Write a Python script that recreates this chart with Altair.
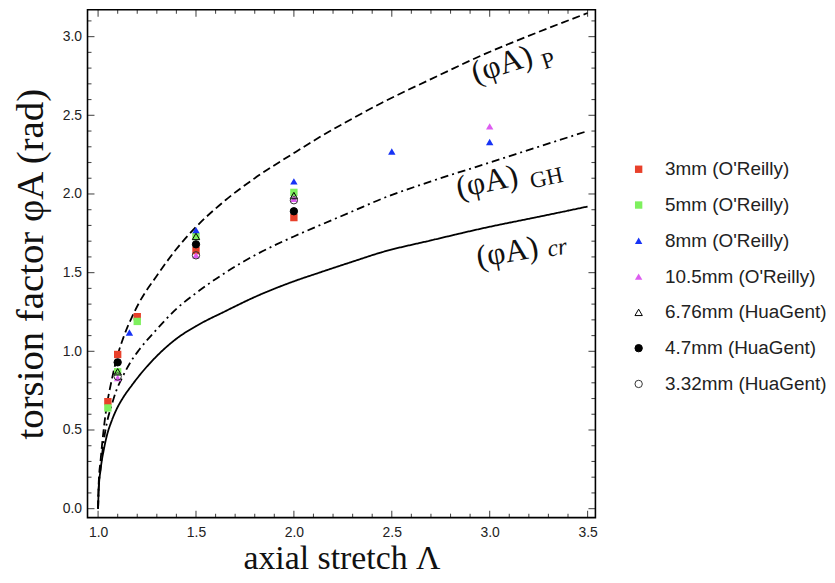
import altair as alt
import pandas as pd

# ---------------- data ----------------
series_names = ["3mm (O'Reilly)", "5mm (O'Reilly)", "8mm (O'Reilly)", "10.5mm (O'Reilly)",
                "6.76mm (HuaGent)", "4.7mm (HuaGent)", "3.32mm (HuaGent)"]
series_x = [
    [1.05, 1.10, 1.20, 1.50, 2.00],
    [1.05, 1.10, 1.20, 1.50, 2.00],
    [1.16, 1.50, 2.00, 2.50, 3.00],
    [1.10, 1.50, 2.00, 3.00],
    [1.10, 1.50, 2.00],
    [1.10, 1.50, 2.00],
    [1.10, 1.50, 2.00],
]
series_y = [
    [0.68, 0.98, 1.22, 1.64, 1.85],
    [0.64, 0.87, 1.19, 1.73, 2.01],
    [1.12, 1.77, 2.08, 2.27, 2.33],
    [0.83, 1.61, 1.97, 2.43],
    [0.87, 1.73, 1.99],
    [0.93, 1.68, 1.89],
    [0.84, 1.61, 1.96],
]
series_fill = ["#e8402a", "#7ef05e", "#1733f5", "#dd5cf0", "transparent", "#000000", "transparent"]
series_stroke = ["transparent", "transparent", "transparent", "transparent", "#000000", "#000000", "#333333"]
series_shape = ["square", "square", "triangle-up", "triangle-up", "triangle-up", "circle", "circle"]
series_size = [55, 55, 95, 95, 80, 90, 85]

curve_names = ["P", "GH", "cr"]
curve_grid = [1.0, 1.003, 1.013, 1.03, 1.044, 1.07, 1.09, 1.13, 1.17, 1.21, 1.3, 1.4, 1.5,
              1.65, 1.8, 2.0, 2.13, 2.3, 2.45, 2.7, 2.976, 3.25, 3.5]
curve_P = [0.0, 0.16, 0.31, 0.52, 0.65, 0.82, 0.93, 1.09, 1.21, 1.31, 1.48, 1.65, 1.79,
           1.96, 2.10, 2.26, 2.36, 2.48, 2.58, 2.73, 2.89, 3.03, 3.15]
curve_GH = [0.0, 0.13, 0.26, 0.44, 0.54, 0.66, 0.74, 0.85, 0.94, 1.01, 1.14, 1.27, 1.37,
            1.50, 1.61, 1.73, 1.80, 1.89, 1.97, 2.08, 2.19, 2.30, 2.40]
curve_cr = [0.0, 0.12, 0.25, 0.38, 0.46, 0.56, 0.62, 0.71, 0.78, 0.845, 0.97, 1.08, 1.16,
            1.255, 1.345, 1.445, 1.50, 1.57, 1.63, 1.705, 1.785, 1.855, 1.92]
curve_y = [curve_P, curve_GH, curve_cr]
curve_dash = [[8, 4], [8, 4, 2, 4], [1, 0]]

label_text = ["(φA)", "(φA)", "(φA)"]
label_x = [3.062, 2.986, 3.09]
label_y = [2.824, 2.078, 1.630]
label_angle = [342, 348, 350]

sub_text = ["P", "GH"]
sub_x = [3.30, 3.29]
sub_y = [2.845, 2.10]
sub_angle = [342, 348]

it_text = ["cr"]
it_x = [3.345]
it_y = [1.655]
it_angle = [350]

x_major = [1.0, 1.5, 2.0, 2.5, 3.0, 3.5]
y_major = [0.0, 0.5, 1.0, 1.5, 2.0, 2.5, 3.0]
x_minor = [round(1.0 + 0.1 * i, 2) for i in range(26) if i % 5 != 0]
y_minor = [round(0.1 * i, 2) for i in range(32) if i % 5 != 0]

X_DOMAIN = [0.946, 3.54]
Y_DOMAIN = [-0.057, 3.171]
W = 511
H = 511
MAJOR = 7
MINOR = 4

# ---------------- tables ----------------
pts = pd.DataFrame([
    {"series": s, "x": x, "y": y}
    for s, xs_, ys_ in zip(series_names, series_x, series_y)
    for x, y in zip(xs_, ys_)
])
crv = pd.DataFrame([
    {"curve": c, "x": x, "y": y, "order": i}
    for c, ys_ in zip(curve_names, curve_y)
    for i, (x, y) in enumerate(zip(curve_grid, ys_))
])
lab = pd.DataFrame({"t": label_text, "x": label_x, "y": label_y, "a": label_angle})
sub = pd.DataFrame({"t": sub_text, "x": sub_x, "y": sub_y, "a": sub_angle})
itl = pd.DataFrame({"t": it_text, "x": it_x, "y": it_y, "a": it_angle})

xs = alt.Scale(domain=X_DOMAIN, nice=False, zero=False)
ys = alt.Scale(domain=Y_DOMAIN, nice=False, zero=False)

XAX = alt.Axis(orient="bottom", values=x_major, format=".1f", ticks=False,
               domain=False, grid=False, labelPadding=8,
               labelFont="Liberation Sans", labelFontSize=14, labelColor="#222",
               title="axial stretch Λ", titleFont="Liberation Serif",
               titleFontSize=34, titleFontWeight="normal", titleColor="#111",
               titlePadding=2)
YAX = alt.Axis(orient="left", values=y_major, format=".1f", ticks=False,
               domain=False, grid=False, labelPadding=6,
               labelFont="Liberation Sans", labelFontSize=14, labelColor="#222",
               title="torsion factor φA (rad)", titleFont="Liberation Serif",
               titleFontSize=39, titleFontWeight="normal", titleColor="#111",
               titlePadding=12)


def X(field):
    return alt.X(field, scale=xs, axis=XAX)


def Y(field):
    return alt.Y(field, scale=ys, axis=YAX)


curves = alt.Chart(crv).mark_line(color="black", strokeWidth=1.8, clip=True,
                                  interpolate="monotone").encode(
    x=X("x:Q"), y=Y("y:Q"),
    strokeDash=alt.StrokeDash("curve:N", scale=alt.Scale(domain=curve_names, range=curve_dash),
                              legend=None),
    order="order:Q",
)

leg = alt.Legend(title=None, orient="none", legendX=545, legendY=151,
                 labelFont="Liberation Sans", labelFontSize=19, labelColor="#222",
                 labelLimit=300, rowPadding=16, labelOffset=17, padding=0,
                 symbolStrokeWidth=1)

points = alt.Chart(pts).mark_point(filled=True, opacity=1, strokeWidth=1).encode(
    x=X("x:Q"), y=Y("y:Q"),
    shape=alt.Shape("series:N", scale=alt.Scale(domain=series_names, range=series_shape), legend=leg),
    fill=alt.Fill("series:N", scale=alt.Scale(domain=series_names, range=series_fill), legend=leg),
    stroke=alt.Stroke("series:N", scale=alt.Scale(domain=series_names, range=series_stroke), legend=leg),
    size=alt.Size("series:N", scale=alt.Scale(domain=series_names, range=series_size), legend=leg),
)

labels = alt.Chart(lab).mark_text(font="Liberation Serif", fontSize=32, color="#111").encode(
    x=X("x:Q"), y=Y("y:Q"), text="t:N", angle=alt.Angle("a:Q", scale=None),
)

subs = alt.Chart(sub).mark_text(font="Liberation Serif", fontSize=23, color="#111").encode(
    x=X("x:Q"), y=Y("y:Q"), text="t:N", angle=alt.Angle("a:Q", scale=None),
)

ital = alt.Chart(itl).mark_text(font="Liberation Serif", fontSize=24, fontStyle="italic",
                                color="#111").encode(
    x=X("x:Q"), y=Y("y:Q"), text="t:N", angle=alt.Angle("a:Q", scale=None),
)


# inward frame ticks (major and minor), drawn through the shared scales
def xticks(values, length, top):
    pos = length / 2 if top else H - length / 2
    return alt.Chart(pd.DataFrame({"x": values})).mark_tick(
        color="black", thickness=1.1, orient="vertical", size=length).encode(
        x=X("x:Q"), y=alt.value(pos))


def yticks(values, length, right):
    pos = W - length / 2 if right else length / 2
    return alt.Chart(pd.DataFrame({"y": values})).mark_tick(
        color="black", thickness=1.1, orient="horizontal", size=length).encode(
        y=Y("y:Q"), x=alt.value(pos))


ticks = [
    xticks(x_major, MAJOR, False), xticks(x_minor, MINOR, False),
    xticks(x_major, MAJOR, True), xticks(x_minor, MINOR, True),
    yticks(y_major, MAJOR, False), yticks(y_minor, MINOR, False),
    yticks(y_major, MAJOR, True), yticks(y_minor, MINOR, True),
]

chart = alt.layer(curves, *ticks, points, labels, subs, ital).properties(
    width=W, height=H,
    padding={"left": 3, "top": 0, "right": 0, "bottom": 0},
).configure_view(stroke="black", strokeWidth=1.6)

chart.save("out.html", embed_options={"renderer": "svg", "actions": False})
